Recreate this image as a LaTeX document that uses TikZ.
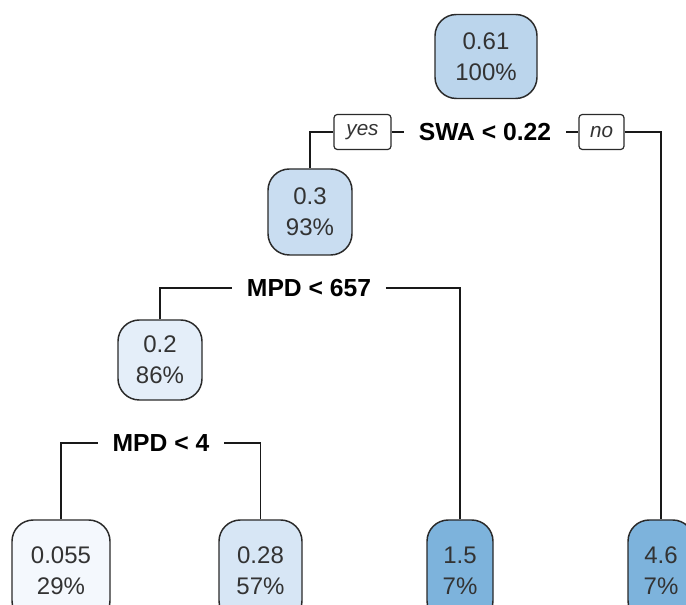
\documentclass[tikz,border=0pt]{standalone}
\usepackage{fontspec}
\setmainfont{Liberation Sans}
\definecolor{cRoot}{HTML}{BBD5EC}
\definecolor{cA}{HTML}{C9DDF1}
\definecolor{cB}{HTML}{E4EEF9}
\definecolor{cC}{HTML}{F4F8FD}
\definecolor{cD}{HTML}{D7E6F5}
\definecolor{cE}{HTML}{7DB3DC}
\definecolor{edge}{HTML}{2A2A2A}
\tikzset{
  treenode/.style={draw=edge, line width=1.1pt, rounded corners=16pt, align=center,
    font=\fontsize{18}{23}\selectfont, text=black!80, inner sep=0pt},
  splitlabel/.style={font=\fontsize{18.5}{22}\selectfont\bfseries, inner ysep=2pt, inner xsep=11pt},
  dirbox/.style={draw=edge, line width=0.9pt, rounded corners=2.5pt, fill=white,
    font=\fontsize{15.5}{18}\selectfont\itshape, text=black!80, inner sep=0pt,
    minimum height={35*0.75pt}},
  conn/.style={line width=1pt, draw=black!90}
}
\begin{document}
\begin{tikzpicture}[x=0.75pt, y=-0.75pt]
\useasboundingbox (0,0) rectangle (686,605);
\clip (0,0) rectangle (686,605);
\fill[white] (0,0) rectangle (686,605);
% nodes
\node[treenode, fill=cRoot, minimum width={102*0.75pt}, minimum height={84*0.75pt}] (root) at (486,56.5) {0.61\\100\%};
\node[treenode, fill=cA, minimum width={84*0.75pt}, minimum height={86*0.75pt}] (n03) at (310,212) {0.3\\93\%};
\node[treenode, fill=cB, minimum width={84*0.75pt}, minimum height={80*0.75pt}] (n02) at (160,360) {0.2\\86\%};
\node[treenode, fill=cC, minimum width={98*0.75pt}, minimum height={102*0.75pt}] (n0055) at (61,571) {0.055\\29\%};
\node[treenode, fill=cD, minimum width={83*0.75pt}, minimum height={102*0.75pt}] (n028) at (260.5,571) {0.28\\57\%};
\node[treenode, fill=cE, minimum width={66*0.75pt}, minimum height={102*0.75pt}] (n15) at (460,571) {1.5\\7\%};
\node[treenode, fill=cE, minimum width={66*0.75pt}, minimum height={102*0.75pt}] (n46) at (661,571) {4.6\\7\%};
% split labels
\node[splitlabel] (s1) at (485,132) {SWA < 0.22};
\node[dirbox, minimum width={57*0.75pt}] (yes) at (362.5,132) {yes};
\node[dirbox, minimum width={45*0.75pt}] (no) at (601.5,132) {no};
\node[splitlabel] (s2) at (309,288) {MPD < 657};
\node[splitlabel] (s3) at (161,443) {MPD < 4};
% connectors
\draw[conn] (n03.north) |- (yes.west);
\draw[conn] (yes.east) -- (s1.west);
\draw[conn] (s1.east) -- (no.west);
\draw[conn] (no.east) -| (n46.north);
\draw[conn] (n02.north) |- (s2.west);
\draw[conn] (s2.east) -| (n15.north);
\draw[conn] (n0055.north) |- (s3.west);
\draw[conn] (s3.east) -| (n028.north);
\end{tikzpicture}
\end{document}
